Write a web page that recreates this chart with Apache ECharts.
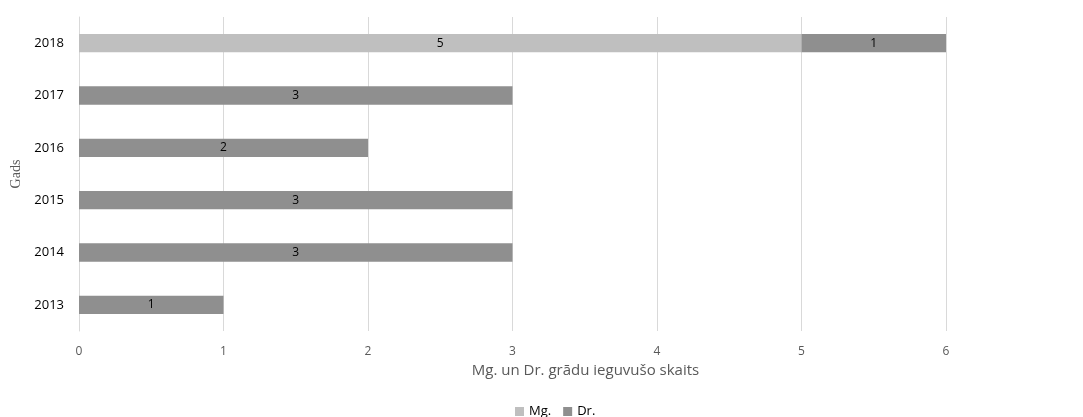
<!DOCTYPE html>
<html>
<head>
<meta charset="utf-8">
<script src="https://cdn.jsdelivr.net/npm/echarts@6/dist/echarts.min.js"></script>
<style>
  html, body { margin: 0; padding: 0; background: #ffffff; }
  #chart { width: 1083px; height: 417px; }
</style>
</head>
<body>
<div id="chart"></div>
<script>
// Years, bottom to top
const years = ['2013', '2014', '2015', '2016', '2017', '2018'];
// Master's degrees per year (null where none)
const mgValues = [null, null, null, null, null, 5];
// Doctoral degrees per year
const drValues = [1, 3, 3, 2, 3, 1];
const xTicks = [0, 1, 2, 3, 4, 5, 6];

const chart = echarts.init(document.getElementById('chart'));
const labelFont = 'Open Sans, Liberation Sans, sans-serif';

const barLabel = {
  show: true,
  position: 'inside',
  color: '#000000',
  fontSize: 12,
  fontFamily: labelFont,
  formatter: p => (p.value ? String(p.value) : '')
};

chart.setOption({
  animation: false,
  backgroundColor: '#ffffff',
  grid: { left: 79, right: 137, top: 17, bottom: 86, containLabel: false },
  legend: {
    data: ['Mg.', 'Dr.'],
    bottom: -6,
    left: 510,
    itemWidth: 9,
    itemHeight: 9,
    itemGap: 12,
    icon: 'rect',
    textStyle: { color: '#000000', fontSize: 13, fontFamily: labelFont }
  },
  xAxis: {
    type: 'value',
    min: xTicks[0],
    max: xTicks[xTicks.length - 1],
    interval: 1,
    name: 'Mg. un Dr. grādu ieguvušo skaits',
    nameLocation: 'middle',
    nameGap: 31,
    nameTextStyle: {
      color: '#595959', fontSize: 15, fontFamily: labelFont,
      padding: [0, 0, 0, 146]
    },
    axisLine: { show: false },
    axisTick: { show: false },
    axisLabel: { color: '#595959', fontSize: 12, fontFamily: labelFont, margin: 15 },
    splitLine: { show: true, lineStyle: { color: '#d9d9d9', width: 1 } }
  },
  yAxis: {
    type: 'category',
    data: years,
    name: 'Gads',
    nameLocation: 'middle',
    nameGap: 56,
    nameRotate: 90,
    nameTextStyle: { color: '#595959', fontSize: 14, fontFamily: 'Liberation Serif, serif' },
    axisLine: { show: true, lineStyle: { color: '#d9d9d9' } },
    axisTick: { show: false },
    axisLabel: { color: '#000000', fontSize: 13, fontFamily: labelFont, margin: 15 },
    splitLine: { show: false }
  },
  series: [
    {
      name: 'Mg.',
      type: 'bar',
      stack: 'total',
      data: mgValues,
      barWidth: '35%',
      itemStyle: { color: '#bfbfbf' },
      label: barLabel
    },
    {
      name: 'Dr.',
      type: 'bar',
      stack: 'total',
      data: drValues,
      barWidth: '35%',
      itemStyle: { color: '#8f8f8f' },
      label: barLabel
    }
  ]
});
</script>
</body>
</html>
